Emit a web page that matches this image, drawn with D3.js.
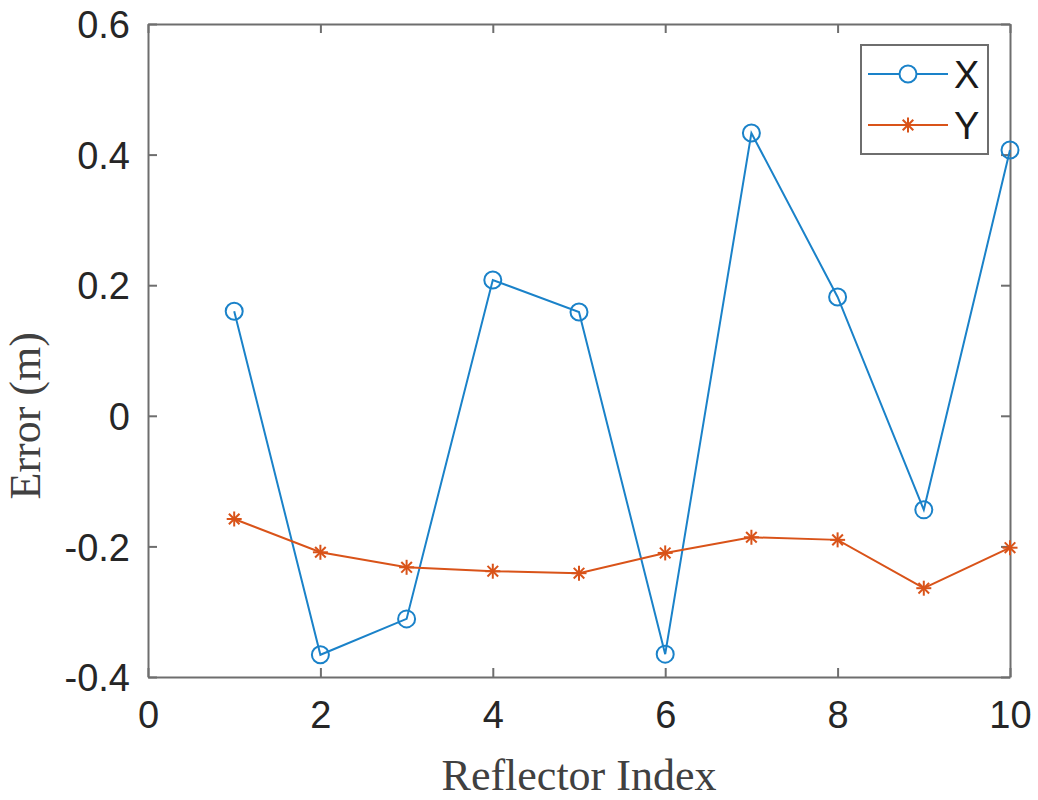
<!DOCTYPE html>
<html>
<head>
<meta charset="utf-8">
<script src="https://cdn.jsdelivr.net/npm/d3@7"></script>
<style>
  body { margin: 0; background: #fff; }
  .tick text { font-family: "Liberation Sans", Arial, sans-serif; font-size: 38px; fill: #262626; }
</style>
</head>
<body>
<script>
// data
var index = [1, 2, 3, 4, 5, 6, 7, 8, 9, 10];
var errX = [0.160, -0.366, -0.311, 0.208, 0.159, -0.365, 0.433, 0.182, -0.144, 0.407];
var errY = [-0.158, -0.209, -0.232, -0.238, -0.241, -0.210, -0.186, -0.190, -0.264, -0.202];
var xTicks = [0, 2, 4, 6, 8, 10];
var yTicks = [-0.4, -0.2, 0, 0.2, 0.4, 0.6];
var seriesNames = ["X", "Y"];

var margin = {top: 24, right: 28, bottom: 123, left: 148},
    width = 1038 - margin.left - margin.right,
    height = 800 - margin.top - margin.bottom;

var x = d3.scaleLinear().domain([0, 10]).range([0, width]);
var y = d3.scaleLinear().domain([-0.4, 0.6]).range([height, 0]);

var svg = d3.select("body").append("svg")
    .attr("width", 1038)
    .attr("height", 800)
    .append("g")
    .attr("transform", "translate(" + margin.left + "," + margin.top + ")");

var axisColor = "#6e6e6e";
// matlab style labels, plain hyphen for minus
var fmt = function(d) { return d == 0 ? "0" : d.toFixed(1); };

// axes with inward ticks on all four sides
var gx = svg.append("g")
    .attr("transform", "translate(0," + height + ")")
    .call(d3.axisBottom(x).tickValues(xTicks).tickSizeInner(-9).tickSizeOuter(0).tickPadding(24));
var gy = svg.append("g")
    .call(d3.axisLeft(y).tickValues(yTicks).tickFormat(fmt).tickSizeInner(-9).tickSizeOuter(0).tickPadding(18));
var gt = svg.append("g")
    .call(d3.axisTop(x).tickValues(xTicks).tickSizeInner(-9).tickSizeOuter(0).tickFormat(""));
var gr = svg.append("g")
    .attr("transform", "translate(" + width + ",0)")
    .call(d3.axisRight(y).tickValues(yTicks).tickSizeInner(-9).tickSizeOuter(0).tickFormat(""));

[gx, gy, gt, gr].forEach(function(g) {
    g.selectAll("path").attr("stroke", axisColor).attr("stroke-width", 2);
    g.selectAll("line").attr("stroke", axisColor).attr("stroke-width", 2);
});
gy.selectAll(".tick text").attr("dy", "0.36em");
gx.selectAll(".tick text").attr("dy", "0.72em");

var colors = {X: "#1a82c9", Y: "#D95319"};

var line = d3.line()
    .x(function(d) { return x(d[0]); })
    .y(function(d) { return y(d[1]); });

var dataX = index.map(function(d, i) { return [d, errX[i]]; });
var dataY = index.map(function(d, i) { return [d, errY[i]]; });

function asterisk(g, cx, cy, r, color) {
    for (var a = 0; a < 4; a++) {
        var ang = a * Math.PI / 4;
        g.append("line")
            .attr("x1", cx - r * Math.cos(ang)).attr("y1", cy - r * Math.sin(ang))
            .attr("x2", cx + r * Math.cos(ang)).attr("y2", cy + r * Math.sin(ang))
            .attr("stroke", color).attr("stroke-width", 2);
    }
}

svg.append("path").datum(dataX)
    .attr("fill", "none").attr("stroke", colors.X).attr("stroke-width", 2)
    .attr("d", line);
svg.selectAll(".mx").data(dataX).enter().append("circle")
    .attr("class", "mx")
    .attr("cx", function(d) { return x(d[0]); })
    .attr("cy", function(d) { return y(d[1]); })
    .attr("r", 8.5)
    .attr("fill", "none").attr("stroke", colors.X).attr("stroke-width", 2);

svg.append("path").datum(dataY)
    .attr("fill", "none").attr("stroke", colors.Y).attr("stroke-width", 2)
    .attr("d", line);
var my = svg.append("g");
dataY.forEach(function(d) { asterisk(my, x(d[0]), y(d[1]), 7.5, colors.Y); });

// legend
var lg = svg.append("g").attr("transform", "translate(" + (861 - margin.left) + "," + (45 - margin.top) + ")");
lg.append("rect")
    .attr("width", 127).attr("height", 109)
    .attr("fill", "#fff").attr("stroke", axisColor).attr("stroke-width", 2);
seriesNames.forEach(function(n, i) {
    var ly = 29 + i * 51;
    lg.append("line").attr("x1", 7).attr("x2", 87).attr("y1", ly).attr("y2", ly)
        .attr("stroke", colors[n]).attr("stroke-width", 2);
    if (n == "X") {
        lg.append("circle").attr("cx", 47).attr("cy", ly).attr("r", 8.5)
            .attr("fill", "#fff").attr("stroke", colors[n]).attr("stroke-width", 2);
    } else {
        asterisk(lg, 47, ly, 7.5, colors[n]);
    }
    lg.append("text").attr("x", 93).attr("y", ly + 14)
        .attr("font-family", "Liberation Sans, Arial, sans-serif")
        .attr("font-size", 38).attr("fill", "#1a1a1a")
        .text(n);
});

// axis titles
svg.append("text")
    .attr("x", width / 2).attr("y", height + 113)
    .attr("text-anchor", "middle")
    .attr("font-family", "Liberation Serif, Times New Roman, serif")
    .attr("font-size", 44).attr("fill", "#404040")
    .text("Reflector Index");
svg.append("text")
    .attr("transform", "translate(" + (-108) + "," + y(0) + ") rotate(-90)")
    .attr("text-anchor", "middle")
    .attr("font-family", "Liberation Serif, Times New Roman, serif")
    .attr("font-size", 44).attr("fill", "#404040")
    .text("Error (m)");
</script>
</body>
</html>
